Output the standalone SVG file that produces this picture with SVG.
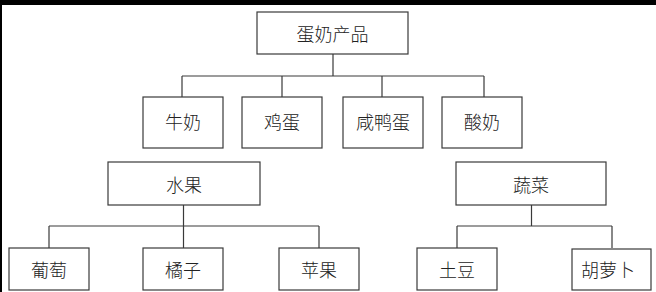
<svg xmlns="http://www.w3.org/2000/svg" width="656" height="292" viewBox="0 0 656 292">
<style>
.box{fill:#fff;stroke:#3a3a3a;stroke-width:1.2}
.lbl{font-family:"Noto Sans CJK SC","Noto Sans CJK TC",sans-serif;font-size:18px;font-weight:300;fill:#222;text-anchor:middle;dominant-baseline:central}
.ln{fill:none;stroke:#3a3a3a;stroke-width:1.2}
</style>
<rect x="0" y="0" width="656" height="292" fill="#fff"/>
<rect x="0" y="0" width="656" height="5" fill="#000"/>
<rect x="0" y="0" width="2" height="292" fill="#000"/>
<g id="connectors">
<path class="ln" d="M333 54V76M182 76H484M182 76V97M282 76V97M382 76V97M484 76V97"/>
<path class="ln" d="M183.5 205V226M49 226H319M49 226V248M183.5 226V248M319 226V248"/>
<path class="ln" d="M531.5 205V226M457 226H612M457 226V248M612 226V248"/>
</g>
<g id="n-dairy"><rect class="box" x="257" y="12" width="151" height="42"/><text class="lbl" x="332.5" y="33">蛋奶产品</text></g>
<g id="n-milk"><rect class="box" x="143" y="97" width="80" height="51"/><text class="lbl" x="183" y="121">牛奶</text></g>
<g id="n-egg"><rect class="box" x="242" y="97" width="80" height="51"/><text class="lbl" x="282" y="121">鸡蛋</text></g>
<g id="n-duckegg"><rect class="box" x="343" y="97" width="80" height="51"/><text class="lbl" x="383" y="121">咸鸭蛋</text></g>
<g id="n-yogurt"><rect class="box" x="442" y="97" width="80" height="51"/><text class="lbl" x="482" y="121">酸奶</text></g>
<g id="n-fruit"><rect class="box" x="108" y="162" width="152" height="43"/><text class="lbl" x="184" y="184">水果</text></g>
<g id="n-veg"><rect class="box" x="456" y="162" width="150" height="43"/><text class="lbl" x="531" y="184">蔬菜</text></g>
<g id="n-grape"><rect class="box" x="9" y="248" width="80" height="42"/><text class="lbl" x="49" y="269">葡萄</text></g>
<g id="n-orange"><rect class="box" x="143" y="248" width="80" height="42"/><text class="lbl" x="183" y="269">橘子</text></g>
<g id="n-apple"><rect class="box" x="279" y="248" width="80" height="42"/><text class="lbl" x="319" y="269">苹果</text></g>
<g id="n-potato"><rect class="box" x="417" y="248" width="80" height="42"/><text class="lbl" x="457" y="269">土豆</text></g>
<g id="n-carrot"><rect class="box" x="572" y="249" width="79" height="41"/><text class="lbl" x="608" y="269">胡萝卜</text></g>
</svg>
